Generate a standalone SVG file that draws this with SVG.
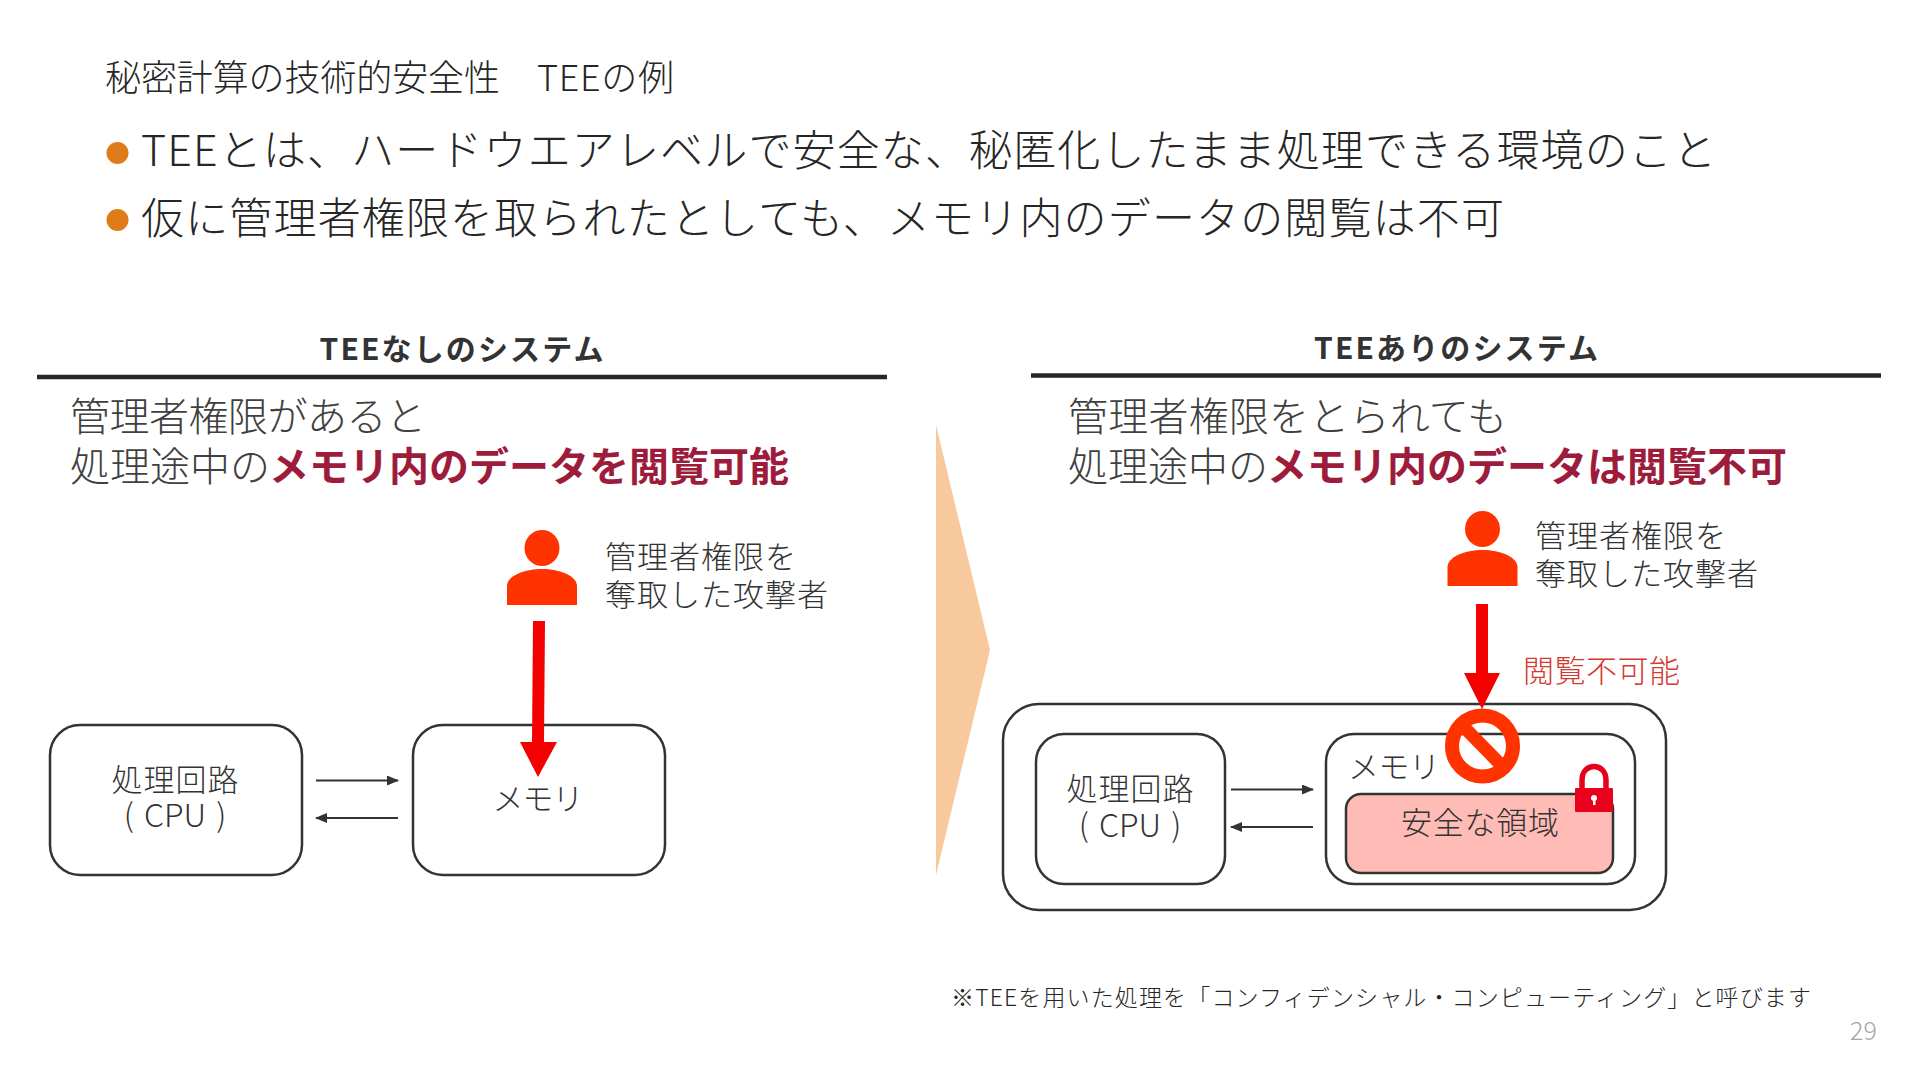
<svg xmlns="http://www.w3.org/2000/svg" width="1920" height="1080" viewBox="0 0 1920 1080">
<style>
text{font-family:"Noto Sans CJK JP","Noto Sans",sans-serif;font-weight:300;fill:#262626}
.s{font-size:31px;fill:#333}
.c{font-size:32px;fill:#333;word-spacing:3px}
.h{font-size:40px;fill:#404040}
.b{font-weight:700;fill:#9d1c3c}
.hd{font-size:30px;font-weight:700;fill:#333}
.box{fill:#fff;stroke:#333;stroke-width:2.5}
.rule{stroke:#262626;stroke-width:4.5}
.thin{stroke:#333;stroke-width:2;fill:none}
.red{fill:#f30000}
.per{fill:#ff3300}
.mid{text-anchor:middle}
</style>
<defs>
<marker id="a" markerWidth="12" markerHeight="10" refX="11" refY="5" orient="auto" markerUnits="userSpaceOnUse"><path d="M0 0L12 5L0 10Z" fill="#333"/></marker>
<g id="person"><ellipse cx="0" cy="18" rx="17.500" ry="18"/><path d="M-35 75V56C-35 46-18 39 0 39S35 46 35 56V75Z"/></g>
</defs>
<rect width="1920" height="1080" fill="#fff"/>
<g id="title">
<text x="105" y="91" font-size="36" textLength="395">秘密計算の技術的安全性</text>
<text x="537" y="91" font-size="36" textLength="137">TEEの例</text>
<circle cx="117.500" cy="153" r="11" fill="#e07b1a"/>
<text x="141" y="166" font-size="43" textLength="1575">TEEとは、ハードウエアレベルで安全な、秘匿化したまま処理できる環境のこと</text>
<circle cx="117.500" cy="220" r="11" fill="#e07b1a"/>
<text x="141" y="234" font-size="43" textLength="1363">仮に管理者権限を取られたとしても、メモリ内のデータの閲覧は不可</text>
</g>
<g id="left-header">
<text class="hd mid" x="461.500" y="360" textLength="284">TEEなしのシステム</text>
<line class="rule" x1="37" y1="377" x2="887" y2="377"/>
<text class="h" x="70" y="431" textLength="356">管理者権限があると</text>
<text class="h" x="70" y="481">処理途中の<tspan class="b" x="269">メモリ内のデータを閲覧可能</tspan></text>
</g>
<g id="right-header">
<text class="hd mid" x="1456" y="359" textLength="284">TEEありのシステム</text>
<line class="rule" x1="1031" y1="375.500" x2="1881" y2="375.500"/>
<text class="h" x="1068" y="431" textLength="439">管理者権限をとられても</text>
<text class="h" x="1068" y="481">処理途中の<tspan class="b" x="1267">メモリ内のデータは閲覧不可</tspan></text>
</g>
<polygon id="chevron" points="936,425 990,650 936,875" fill="#f8c99c"/>
<g id="left-cpu"><rect class="box" x="50" y="725" width="252" height="150" rx="30"/>
<text class="s mid" x="175" y="791" textLength="127">処理回路</text><text class="c mid" x="175" y="827">( CPU )</text></g>
<g id="left-memory"><rect class="box" x="413" y="725" width="252" height="150" rx="30"/>
<text class="s mid" x="538" y="810" textLength="91">メモリ</text></g>
<g id="left-attacker"><use href="#person" x="542" y="530" class="per"/>
<text class="s" x="605" y="568" textLength="191">管理者権限を</text><text class="s" x="605" y="606" textLength="223">奪取した攻撃者</text></g>
<g id="right-outer"><rect class="box" x="1003" y="704" width="663" height="206" rx="36"/></g>
<g id="right-cpu"><rect class="box" x="1036" y="734" width="189" height="150" rx="28"/>
<text class="s mid" x="1130" y="800" textLength="127">処理回路</text><text class="c mid" x="1130" y="837">( CPU )</text></g>
<g id="right-memory"><rect class="box" x="1326" y="734" width="309" height="150" rx="28"/>
<text class="s" x="1348" y="778" textLength="92">メモリ</text></g>
<g id="secure-area"><rect x="1346" y="794" width="267" height="79" rx="15" fill="#ffbbb5" stroke="#333" stroke-width="2.500"/>
<text class="s mid" x="1480" y="834" textLength="158">安全な領域</text></g>
<g id="right-attacker"><use href="#person" x="1482.500" y="511" class="per"/>
<text class="s" x="1535" y="547" textLength="191">管理者権限を</text><text class="s" x="1535" y="585" textLength="223">奪取した攻撃者</text></g>
<text id="denied" x="1523" y="682" font-size="31" textLength="157" style="fill:#d5392f">閲覧不可能</text>
<g id="connectors">
<line class="thin" x1="316" y1="780.500" x2="398" y2="780.500" marker-end="url(#a)"/>
<line class="thin" x1="398" y1="818" x2="316" y2="818" marker-end="url(#a)"/>
<line class="thin" x1="1231" y1="789.500" x2="1313" y2="789.500" marker-end="url(#a)"/>
<line class="thin" x1="1313" y1="827" x2="1231" y2="827" marker-end="url(#a)"/>
<polygon class="red" points="533,621 545,621 544,742 557,742 538,777 520,742 532,742"/>
<polygon class="red" points="1476,604 1488,604 1488,673 1500,673 1482,709 1464,673 1476,673"/>
</g>
<g id="prohibited"><circle cx="1482.500" cy="746" r="30.500" fill="none" stroke="#ff3300" stroke-width="14"/><line x1="1461" y1="724" x2="1504" y2="768" stroke="#ff3300" stroke-width="13"/></g>
<g id="lock"><path d="M1582 792V780C1582 762 1606 762 1606 780V792" fill="none" stroke="#e8001c" stroke-width="5.500"/><rect x="1575" y="788" width="38" height="24" rx="1" fill="#e8001c"/><circle cx="1594" cy="798" r="3" fill="#fff"/><rect x="1593" y="798" width="2.500" height="7" fill="#fff"/></g>
<text id="footnote" x="951" y="1006" font-size="23" textLength="860">※TEEを用いた処理を「コンフィデンシャル・コンピューティング」と呼びます</text>
<text id="page" x="1850" y="1040" font-size="25" style="fill:#a6a6a6">29</text>
</svg>
